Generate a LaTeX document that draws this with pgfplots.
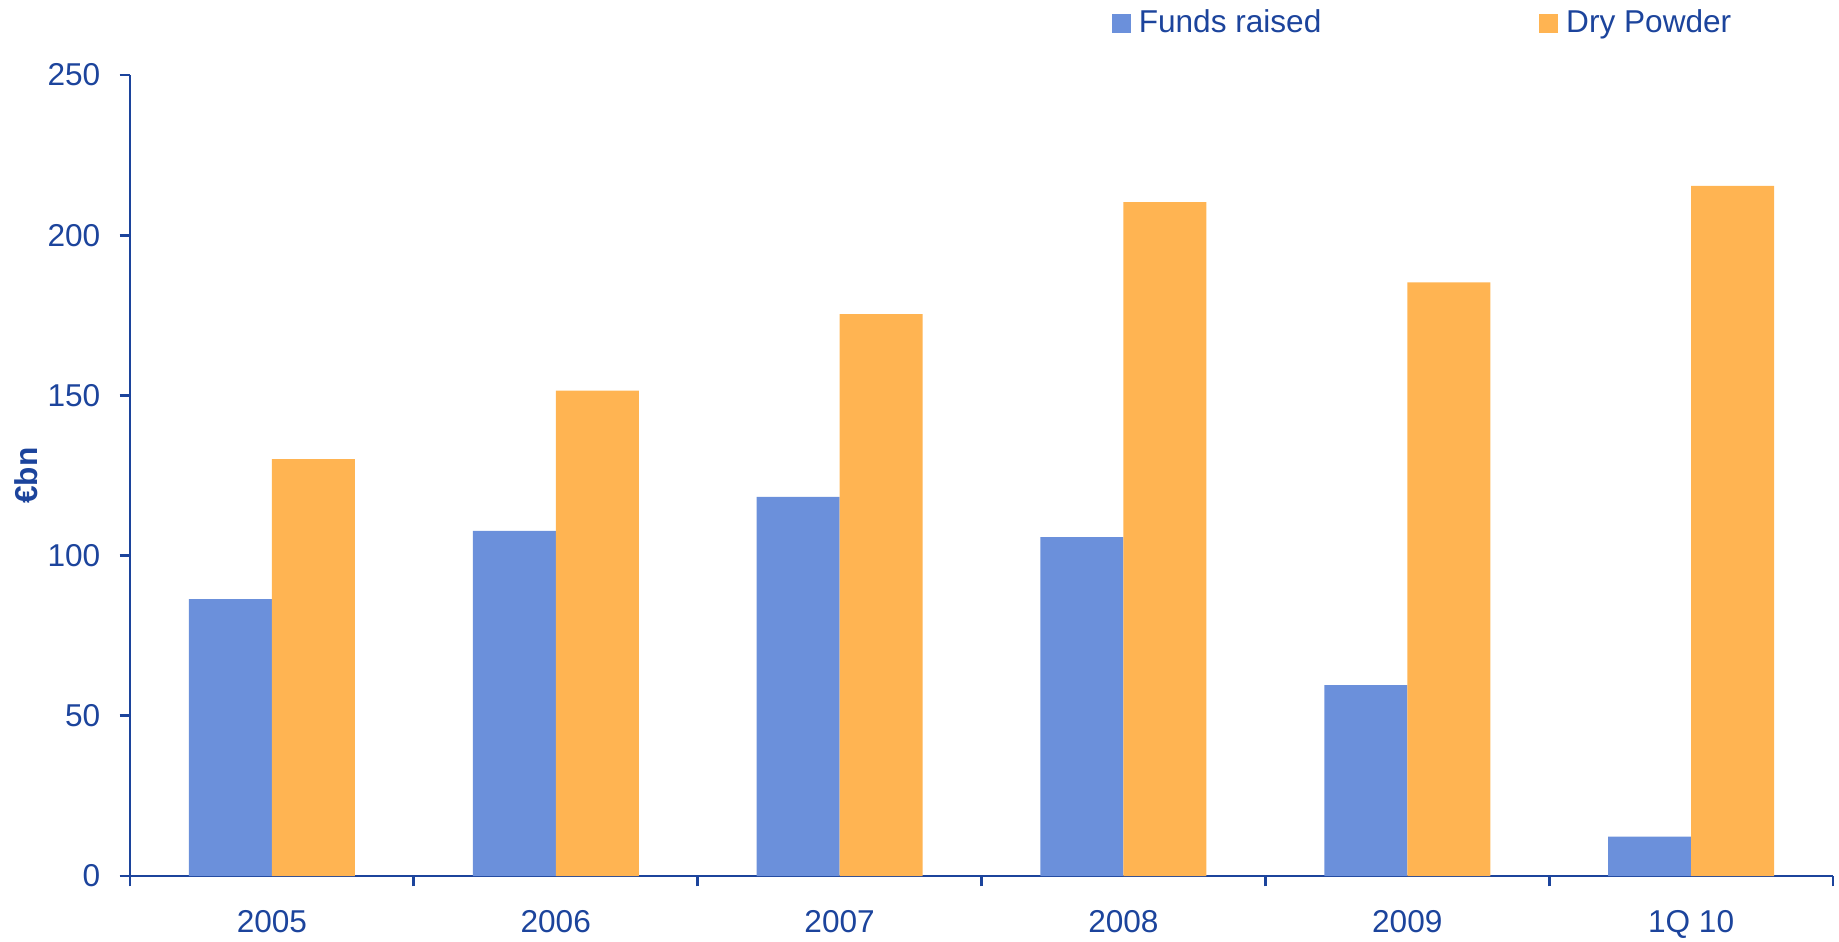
\documentclass[border=0pt]{standalone}
\usepackage{pgfplots}
\pgfplotsset{compat=1.18}
\usepackage{fontspec}
\setmainfont{Liberation Sans}
\definecolor{txtblue}{HTML}{1C449C}
\definecolor{barblue}{HTML}{6B90DB}
\definecolor{barorange}{HTML}{FFB452}
\begin{document}
\begin{tikzpicture}
\fontsize{7.9}{9}\selectfont
\begin{axis}[
  name=ax,
  scale only axis,
  width=425.75pt, height=200.25pt,
  xmin=-0.5, xmax=5.5, ymin=0, ymax=250,
  ybar=0pt, bar width=20.75pt,
  axis x line*=bottom, axis y line*=left,
  axis line style={txtblue, line width=0.7pt},
  every tick/.style={txtblue, line width=0.7pt},
  tick align=outside, major tick length=2.6pt,
  xtick={-0.5,0.5,1.5,2.5,3.5,4.5,5.5},
  xticklabels={},
  extra x ticks={0,1,2,3,4,5},
  extra x tick labels={2005,2006,2007,2008,2009,1Q 10},
  extra x tick style={major tick length=0pt, tick style={draw=none}},
  ytick={0,50,100,150,200,250},
  /pgf/number format/assume math mode=true,
  tick label style={font=\fontsize{7.9}{9}\selectfont, text=txtblue},
  xticklabel style={yshift=-5.8pt},
  yticklabel style={xshift=-2pt},
  ylabel={\textbf{€bn}},
  ylabel style={at={(axis description cs:-0.061,0.5)}, anchor=center, text=txtblue, font=\fontsize{7.9}{9}\selectfont},
  legend columns=2,
  legend style={draw=none, fill=none, at={(axis description cs:0.5766,1.0645)}, anchor=west,
    inner sep=0pt, outer sep=0pt, text=txtblue, font=\fontsize{7.9}{9}\selectfont,
    /tikz/every odd column/.append style={column sep=0pt},
    /tikz/every even column/.append style={column sep=52.5pt}},
  legend image code/.code={\fill[#1] (0pt,-2.35pt) rectangle (4.7pt,2.35pt);},
  enlarge x limits=false,
]
\addplot[fill=barblue, draw=none] coordinates {(0,86.4) (1,107.7) (2,118.3) (3,105.8) (4,59.6) (5,12.3)};
\addplot[fill=barorange, draw=none] coordinates {(0,130.1) (1,151.5) (2,175.4) (3,210.3) (4,185.3) (5,215.4)};
\legend{Funds raised, Dry Powder}
\end{axis}
\pgfresetboundingbox
\path[use as bounding box] ([xshift=-32.5pt,yshift=-16.25pt]ax.south west) rectangle ([xshift=1.5pt,yshift=18.75pt]ax.north east);
\end{tikzpicture}
\end{document}
